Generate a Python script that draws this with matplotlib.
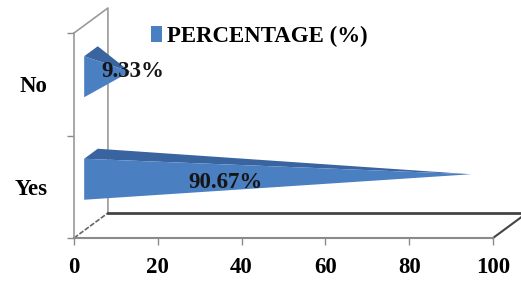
import numpy as np
import matplotlib.pyplot as plt
from matplotlib.patches import Patch

# data
categories = ['Yes', 'No']
percentages = [90.67, 9.33]
value_labels = ['90.67%', '9.33%']
x_ticks = [0, 20, 40, 60, 80, 100]

plt.rcParams['font.family'] = ['Liberation Serif', 'DejaVu Serif']
plt.rcParams['font.weight'] = 'bold'

front_col = '#4a7fc1'
top_col = '#3a649f'
wall_col = '#9a9a9a'
dark_col = '#444444'

fig = plt.figure(figsize=(5.21, 2.82), dpi=100)
ax = fig.add_axes([74 / 521, 44 / 282, 419 / 521, 205 / 282])
ax.set_xlim(0, 100)
ax.set_ylim(0, len(categories))

# oblique "3d" depth offset in data units
DX, DY = 8.1, 0.244


def p(x, y, d):
    return (x + d * DX, y + d * DY)


# walls / floor
ymax = len(categories)
wall = [p(0, 0, 1), p(0, ymax, 1), p(0, ymax, 0)]
ax.plot(*zip(*wall), color=wall_col, lw=1.2, clip_on=False, zorder=1)
ax.plot(*zip(p(0, 0, 0), p(0, 0, 1)), color='#666666', lw=1.2, ls=(0, (3, 1)),
        clip_on=False, zorder=1)
ax.plot(*zip(p(0, 0, 1), p(100, 0, 1)), color=dark_col, lw=2, clip_on=False, zorder=1)
ax.plot(*zip(p(100, 0, 0), p(100, 0, 1)), color=dark_col, lw=1.5, clip_on=False, zorder=1)

# pyramids
h, d1, d2 = 0.2, 0.3, 0.7
for i, (v, lab) in enumerate(zip(percentages, value_labels)):
    c = i + 0.5
    tip = p(v, c, 0.5)
    front = [p(0, c - h, d1), p(0, c + h, d1), tip]
    top = [p(0, c + h, d1), p(0, c + h, d2), tip]
    ax.fill(*zip(*top), color=top_col, lw=0, clip_on=False, zorder=3)
    ax.fill(*zip(*front), color=front_col, lw=0, clip_on=False, zorder=3)

label_offsets = [(-28, 3), (28, 9)]
for i, (v, lab) in enumerate(zip(percentages, value_labels)):
    ax.annotate(lab, xy=(v / 2, i + 0.5), xytext=label_offsets[i],
                textcoords='offset points', ha='center', va='center',
                fontsize=16.5, fontweight='bold', color='#151515', zorder=5)

# axes
for s in ['top', 'right']:
    ax.spines[s].set_visible(False)
ax.spines['left'].set_color(wall_col)
ax.spines['bottom'].set_color('#8a8a8a')
ax.spines['bottom'].set_linewidth(1.5)
ax.spines['left'].set_linewidth(1.2)

ax.set_xticks(x_ticks)
ax.set_xticklabels([str(t) for t in x_ticks])
ax.tick_params(axis='x', length=5, width=1, color='#8a8a8a', pad=9, labelsize=16.5)

ax.set_yticks(np.arange(len(categories) + 1))
ax.set_yticklabels([])
ax.tick_params(axis='y', which='major', length=5, width=1, color='#8a8a8a')
ax.set_yticks(np.arange(len(categories)) + 0.5, minor=True)
ax.set_yticklabels(categories, minor=True)
ax.tick_params(axis='y', which='minor', length=0, pad=19, labelsize=16.5)

fig.legend(handles=[Patch(facecolor=front_col)], labels=['PERCENTAGE (%)'],
           loc='center left', bbox_to_anchor=(151 / 521, 1 - 36 / 282),
           frameon=False, fontsize=16.5, handlelength=0.5, handleheight=0.7,
           handletextpad=0.2, borderpad=0, borderaxespad=0)

fig.savefig('out.png', dpi=100)
